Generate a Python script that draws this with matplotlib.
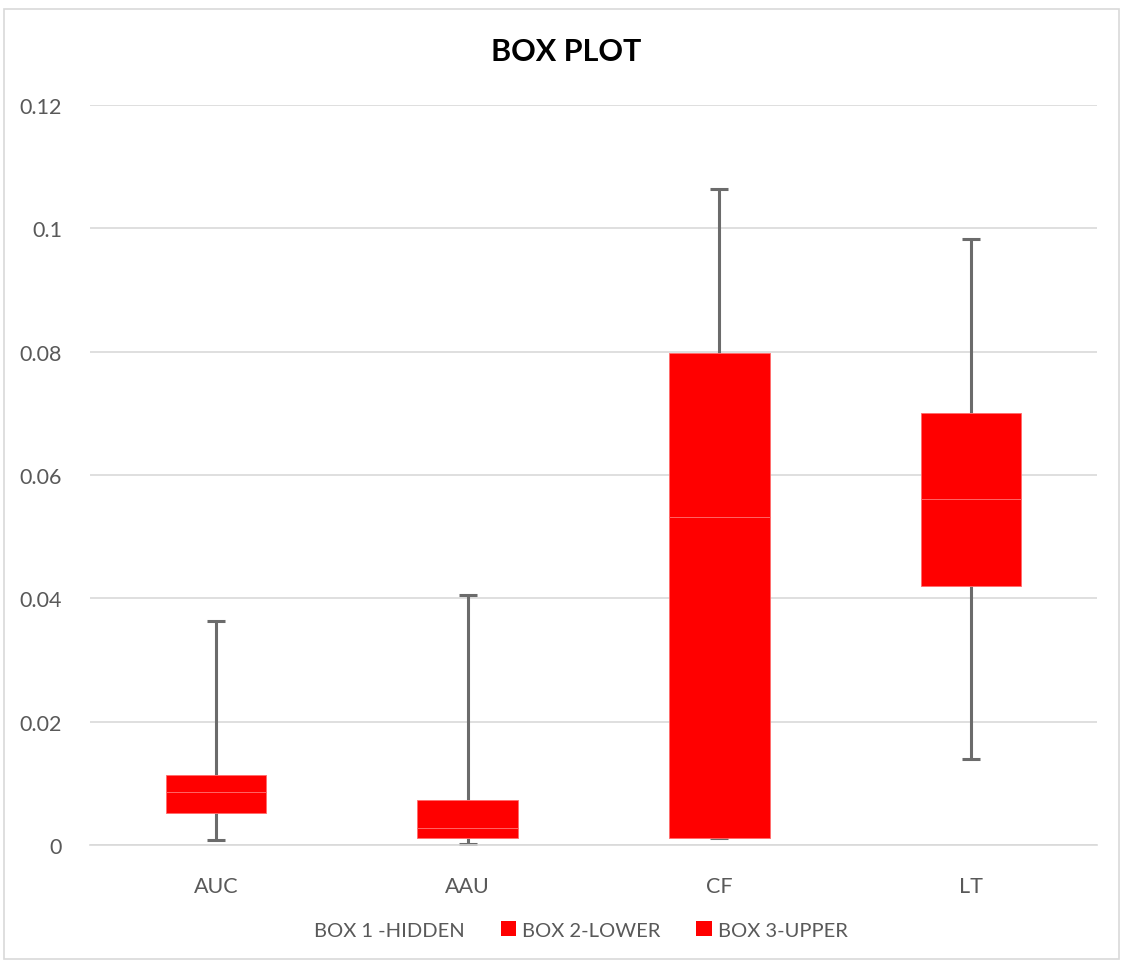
import matplotlib
matplotlib.use("Agg")
import matplotlib.pyplot as plt
import numpy as np
from matplotlib.patches import Rectangle, Patch

# five-number summaries per metric
categories = ["AUC", "AAU", "CF", "LT"]
minimum = [0.00086, 0.0002, 0.00114, 0.0140]
q1 = [0.00519, 0.00119, 0.00114, 0.0420]
median = [0.00855, 0.00276, 0.0532, 0.0561]
q3 = [0.0114, 0.00725, 0.0798, 0.0700]
maximum = [0.0364, 0.0406, 0.1064, 0.0982]
yticks = [0, 0.02, 0.04, 0.06, 0.08, 0.1, 0.12]
ytick_labels = ["0", "0.02", "0.04", "0.06", "0.08", "0.1", "0.12"]

plt.rcParams["font.family"] = ["Lato", "DejaVu Sans"]
GREY = "#595959"
RED = "#ff0000"
WHISK = "#6b6b6b"

q1 = np.array(q1); med = np.array(median); q3a = np.array(q3)
lo = np.array(minimum); hi = np.array(maximum)

fig = plt.figure(figsize=(11.23, 9.62), dpi=100)
ax = fig.add_axes([90 / 1123, 1 - 846 / 962, 1007 / 1123, 740 / 962])

x = np.arange(len(categories))
w = 0.4
ax.bar(x, q1, w, color="none", label="BOX 1 -HIDDEN")
ax.bar(x, med - q1, w, bottom=q1, color=RED, edgecolor="#ff6b6b", linewidth=0.6,
       label="BOX 2-LOWER", zorder=3)
ax.bar(x, q3a - med, w, bottom=med, color=RED, edgecolor="#ff6b6b", linewidth=0.6,
       label="BOX 3-UPPER", zorder=3)

# whiskers: down from Q1 and up from Q3, capped only at the far end
ax.vlines(x, lo, q1, color=WHISK, linewidth=2.2, zorder=2)
ax.vlines(x, q3a, hi, color=WHISK, linewidth=2.2, zorder=2)
ax.plot(x, lo, ls="none", marker="_", ms=13, mew=2.2, color=WHISK, zorder=2)
ax.plot(x, hi, ls="none", marker="_", ms=13, mew=2.2, color=WHISK, zorder=2)

ax.set_xlim(-0.5, len(categories) - 0.5)
ax.set_ylim(0, 0.12)
ax.set_yticks(yticks)
ax.set_yticklabels(ytick_labels)
ax.set_xticks(x)
ax.set_xticklabels(categories)
ax.tick_params(axis="both", length=0, labelsize=15.5, labelcolor=GREY)
ax.tick_params(axis="y", pad=20)
ax.tick_params(axis="x", pad=22)
ax.grid(axis="y", color="#d9d9d9", linewidth=1.2, zorder=0)
ax.set_axisbelow(True)
for s in ["top", "right", "left"]:
    ax.spines[s].set_visible(False)
ax.spines["bottom"].set_color("#d9d9d9")
ax.spines["bottom"].set_linewidth(1.2)

fig.text(566 / 1123, 1 - 52 / 962, "BOX PLOT", ha="center", va="center",
         fontsize=22, fontweight="bold", color="black")

handles = [Patch(facecolor="none", edgecolor="none"),
           Patch(facecolor=RED), Patch(facecolor=RED)]
fig.legend(handles, ["BOX 1 -HIDDEN", "BOX 2-LOWER", "BOX 3-UPPER"],
           loc="center", bbox_to_anchor=(570 / 1123, 1 - 931 / 962), ncol=3,
           frameon=False, fontsize=14.5, labelcolor=GREY, handlelength=0.75,
           handleheight=0.75, handletextpad=0.3, columnspacing=1.8)

fig.patches.append(Rectangle((4 / 1123, 0.002), 1 - 8 / 1123, 1 - 10 / 962 - 0.002,
                             transform=fig.transFigure, fill=False,
                             edgecolor="#d9d9d9", linewidth=1.2))

fig.savefig("out.png", dpi=100, facecolor="white")
